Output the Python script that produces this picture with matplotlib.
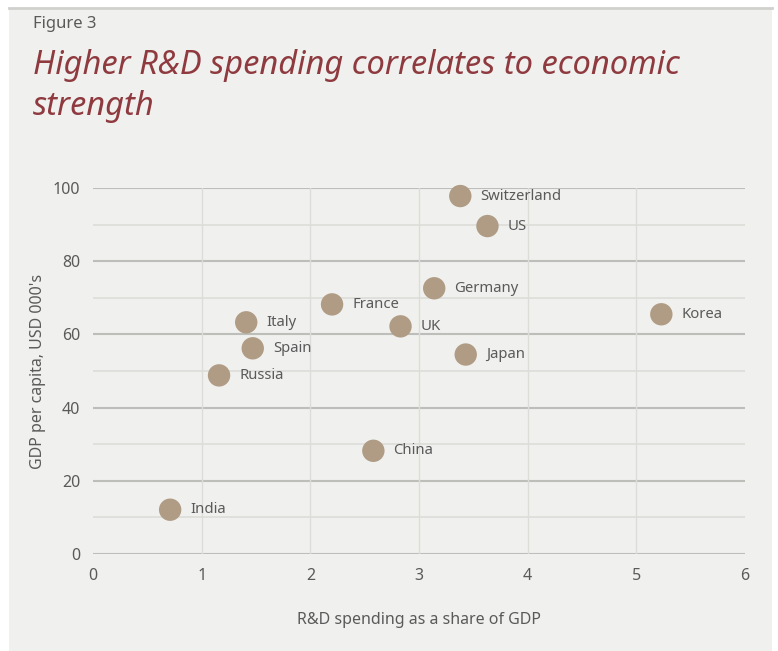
import matplotlib.pyplot as plt
from matplotlib.patches import Rectangle
from matplotlib.lines import Line2D

countries = ["India", "Russia", "Italy", "Spain", "France", "China", "UK",
             "Germany", "Switzerland", "US", "Japan", "Korea"]
rd_share = [0.71, 1.16, 1.41, 1.47, 2.20, 2.58, 2.83, 3.14, 3.38, 3.63, 3.43, 5.23]
gdp_pc = [12.1, 48.8, 63.3, 56.2, 68.2, 28.2, 62.2, 72.6, 97.8, 89.6, 54.5, 65.5]

x_ticks = [0, 1, 2, 3, 4, 5, 6]
y_ticks = [0, 20, 40, 60, 80, 100]

panel_bg = "#f0f0ee"
text_grey = "#5a5a5a"
dot_colour = "#b09c85"
title_red = "#8e3a3f"

plt.rcParams['font.family'] = ['Noto Sans', 'DejaVu Sans']

fig = plt.figure(figsize=(7.78, 6.51), dpi=100)
fig.patch.set_facecolor("white")

# grey panel with a rule along its top edge
fig.patches.append(Rectangle((9 / 778, 0), (772 - 9) / 778, (651 - 8) / 651,
                             transform=fig.transFigure, facecolor=panel_bg,
                             edgecolor="none", zorder=-10))
fig.lines.append(Line2D([9 / 778, 772 / 778], [1 - 8 / 651, 1 - 8 / 651],
                        transform=fig.transFigure, color="#d0d0cc", lw=2,
                        zorder=-5))

fig.text(33 / 778, 1 - 24 / 651, "Figure 3", fontsize=12, color=text_grey,
         va="center", ha="left")
fig.text(33 / 778, 1 - 86 / 651,
         "Higher R&D spending correlates to economic\nstrength",
         fontsize=23.5, style="italic", color=title_red, va="center", ha="left",
         linespacing=1.3)

ax = fig.add_axes([93 / 778, (651 - 554) / 651, (745 - 93) / 778, (554 - 188) / 651])
ax.set_facecolor("none")
ax.set_xlim(0, 6)
ax.set_ylim(0, 100)

# grid: darker lines on labelled values, lighter in between
for v in range(10, 100, 20):
    ax.axhline(v, color="#dcdcd8", lw=1.2, zorder=1)
for v in y_ticks:
    ax.axhline(v, color="#bdbdb9", lw=1.5, zorder=1)
for v in x_ticks[1:-1]:
    ax.axvline(v, color="#dcdcd8", lw=1.0, zorder=1)

ax.scatter(rd_share, gdp_pc, s=260, color=dot_colour, edgecolors="none",
           zorder=3, clip_on=False)
for name, x, y in zip(countries, rd_share, gdp_pc):
    ax.annotate(name, (x, y), xytext=(14.5, 0), textcoords="offset points",
                va="center", ha="left", fontsize=10.7, color=text_grey)

for s in ax.spines.values():
    s.set_visible(False)
ax.set_xticks(x_ticks)
ax.set_yticks(y_ticks)
ax.tick_params(length=0, labelsize=11.5, labelcolor=text_grey)
ax.tick_params(axis="x", pad=10)
ax.tick_params(axis="y", pad=9)
ax.set_xlabel("R&D spending as a share of GDP", fontsize=11.5, color=text_grey,
              labelpad=20)
ax.set_ylabel("GDP per capita, USD 000's", fontsize=11.5, color=text_grey,
              labelpad=5)

fig.savefig("out.png", dpi=100, facecolor=fig.get_facecolor())
